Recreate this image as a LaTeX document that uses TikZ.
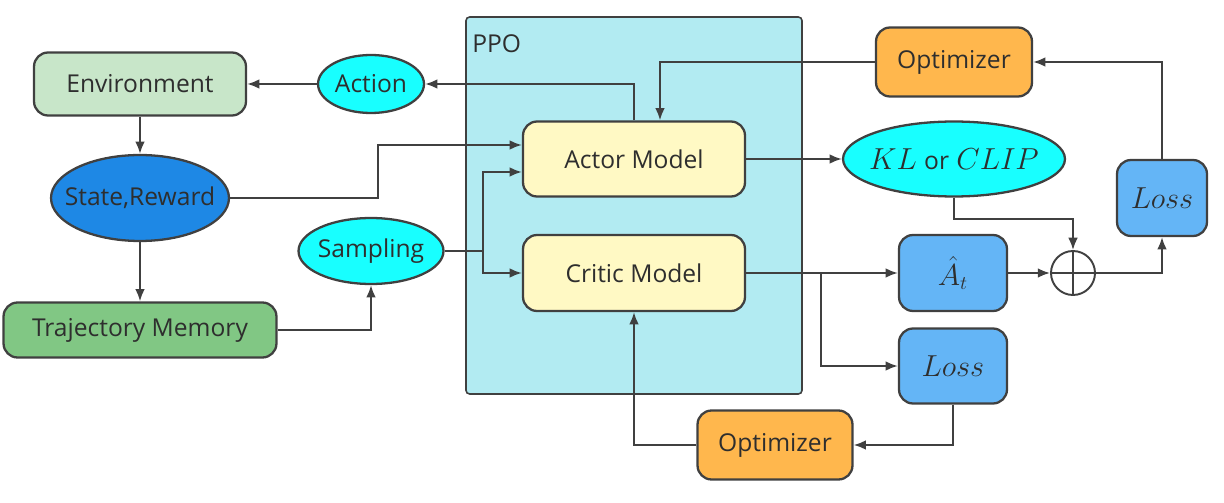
\documentclass[tikz,border=0pt]{standalone}
\usepackage{fontspec}
\setmainfont{Open Sans}
\usetikzlibrary{shapes, arrows, arrows.meta}
\definecolor{envgreen}{HTML}{C8E6C9}
\definecolor{memgreen}{HTML}{81C784}
\definecolor{stateblue}{HTML}{1E88E5}
\definecolor{aqua}{HTML}{18FFFF}
\definecolor{modelyellow}{HTML}{FFF9C4}
\definecolor{optorange}{HTML}{FFB74D}
\definecolor{lossblue}{HTML}{64B5F6}
\definecolor{ppocyan}{HTML}{B2EBF2}
\definecolor{edgegray}{HTML}{404040}
\definecolor{labelgray}{HTML}{2E2E2E}
\tikzstyle{block} = [rectangle, draw=edgegray, line width=1.3pt, rounded corners=8pt,
    inner sep=0pt, text=labelgray, font=\fontsize{14}{16}\selectfont]
\tikzstyle{cloud} = [ellipse, draw=edgegray, line width=1.3pt, fill=aqua,
    inner sep=0pt, text=labelgray, font=\fontsize{14}{16}\selectfont]
\tikzstyle{mathblock} = [block, fill=lossblue, font=\fontsize{16}{18}\selectfont]
\tikzstyle{line} = [draw=edgegray, line width=1.1pt, -{Latex[length=7pt,width=5.5pt]}]
\newcommand{\nowidth}[1]{\makebox[0pt]{#1}}

\begin{document}
\begin{tikzpicture}[x=0.02cm, y=-0.02cm]
        \useasboundingbox (0,0) rectangle (1224,503);
        % PPO frame
        \node [draw=edgegray, line width=0.9pt, fill=ppocyan, rounded corners=2pt,
            minimum width=6.72cm, minimum height=7.54cm] (ppo) at (634,205.5) {};
        \node [anchor=base west, text=labelgray, font=\fontsize{14}{16}\selectfont, inner sep=0pt]
            (ppo_label) at (472,53) {PPO};
        % Place nodes
        \node [block, fill=envgreen, minimum width=4.24cm, minimum height=1.26cm] (env) at (140,84) {Environment};
        \node [cloud, minimum width=2.12cm, minimum height=1.16cm] (action) at (371,84) {\nowidth{Action}};
        \node [cloud, fill=stateblue, minimum width=3.56cm, minimum height=1.72cm] (state) at (140,198) {\nowidth{State,Reward}};
        \node [block, fill=memgreen, minimum width=5.46cm, minimum height=1.1cm] (memory) at (140,330) {Trajectory Memory};
        \node [cloud, minimum width=2.9cm, minimum height=1.32cm] (sampling) at (371,251) {\nowidth{Sampling}};
        \node [block, fill=modelyellow, minimum width=4.44cm, minimum height=1.5cm] (actor) at (634,159) {Actor Model};
        \node [block, fill=modelyellow, minimum width=4.44cm, minimum height=1.52cm] (critic) at (634,273) {Critic Model};
        \node [block, fill=optorange, minimum width=3.12cm, minimum height=1.38cm] (opt_top) at (954,62) {Optimizer};
        \node [cloud, font=\fontsize{16}{18}\selectfont, minimum width=4.44cm, minimum height=1.5cm] (clip) at (954,159)
            {\nowidth{$KL$ {\fontsize{14}{16}\selectfont or} $CLIP$}};
        \node [mathblock, minimum width=1.8cm, minimum height=1.52cm] (loss_top) at (1162,198) {$Loss$};
        \node [mathblock, minimum width=2.16cm, minimum height=1.52cm] (adv) at (953,273) {$\hat{A}_t$};
        \node [circle, draw=edgegray, line width=1.1pt, minimum size=0.88cm, inner sep=0pt] (plus) at (1073,273) {};
        \node [mathblock, minimum width=2.16cm, minimum height=1.5cm] (loss_bot) at (953,366) {$Loss$};
        \node [block, fill=optorange, minimum width=3.1cm, minimum height=1.38cm] (opt_bot) at (775,445) {Optimizer};
        \draw [edgegray, line width=1.1pt] (plus.north) -- (plus.south) (plus.west) -- (plus.east);
        % Helper points
        \coordinate (split) at (483,251);
        \coordinate (branch) at (821,273);
        % Draw edges
        \path [line] (action) -- (env);
        \path [line] (actor.north) |- (action);
        \path [line] (env) -- (state);
        \path [line] (state) -- (memory);
        \path [line] (state.east) -- ++(148,0) |- ([yshift=0.28cm]actor.west);
        \path [line] (memory.east) -| (sampling.south);
        \path [draw=edgegray, line width=1.1pt] (sampling.east) -- (split);
        \path [line] (split) |- ([yshift=-0.26cm]actor.west);
        \path [line] (split) |- (critic.west);
        \path [line] (opt_top) -| ([xshift=0.52cm]actor.north);
        \path [line] (actor) -- (clip);
        \path [line] (clip.south) -- ++(0,21) -| (plus.north);
        \path [line] (critic) -- (adv);
        \path [line] (branch) |- (loss_bot.west);
        \path [line] (adv) -- (plus);
        \path [line] (plus.east) -| (loss_top.south);
        \path [line] (loss_top.north) |- (opt_top.east);
        \path [line] (loss_bot.south) |- (opt_bot.east);
        \path [line] (opt_bot.west) -| (critic.south);
    \end{tikzpicture}
\end{document}
